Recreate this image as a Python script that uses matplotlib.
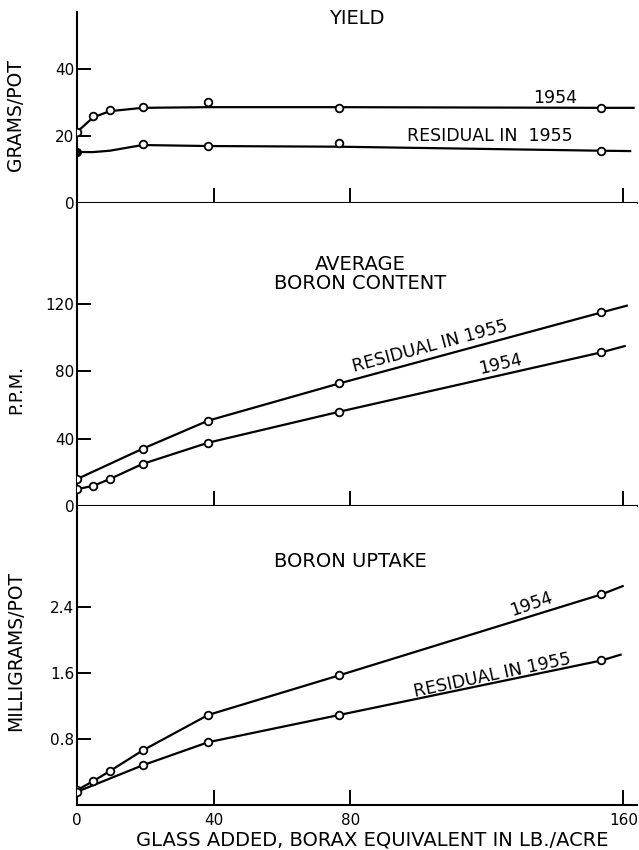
import matplotlib
matplotlib.use('Agg')
import matplotlib.pyplot as plt

# Borax equivalent added (lb/acre)
rates = [0, 4.8, 9.6, 19.2, 38.4, 76.8, 153.6]
rates_res = [0, 19.2, 38.4, 76.8, 153.6]

# Yield, grams/pot
yield_1954 = [21.2, 26.0, 27.8, 28.7, 30.1, 28.4, 28.4]
yield_res = [15.2, 17.6, 17.0, 17.9, 15.5]
# smooth curves as drawn by hand
curve_x_1954 = [0, 4.8, 9.6, 19.2, 38.4, 76.8, 153.6, 163]
curve_y_1954 = [21.2, 25.6, 27.4, 28.4, 28.6, 28.6, 28.4, 28.4]
curve_x_res = [0, 4.8, 9.6, 19.2, 38.4, 76.8, 153.6, 162]
curve_y_res = [15.2, 15.2, 15.6, 17.3, 17.0, 16.8, 15.6, 15.5]

# Average boron content, p.p.m.
ppm_1954 = [10, 12, 16, 25, 37.6, 56, 91.3]
ppm_res = [16, 34, 50.7, 72.8, 115]
ppm_1954_end = (160.4, 95)
ppm_res_end = (161, 119)

# Boron uptake, mg/pot
upt_1954 = [0.18, 0.29, 0.41, 0.66, 1.09, 1.57, 2.55]
upt_res = [0.16, 0.48, 0.76, 1.09, 1.75]
upt_1954_end = (159.8, 2.65)
upt_res_end = (159.2, 1.82)

plt.rcParams['font.family'] = ['DejaVu Sans']
fig = plt.figure(figsize=(6.39, 8.5), dpi=100)

left, width = 77 / 639, 560 / 639
ax1 = fig.add_axes([left, 1 - 203 / 850, width, 191 / 850])
ax2 = fig.add_axes([left, 1 - 506 / 850, width, 303 / 850])
ax3 = fig.add_axes([left, 1 - 805 / 850, width, 299 / 850])

line_kw = dict(color='black', lw=1.6)
mk_kw = dict(marker='o', ms=5.5, mfc='white', mec='black', mew=1.3, ls='none', zorder=3)

for ax in (ax1, ax2, ax3):
    ax.set_xlim(0, 164)
    for s in ('top', 'right'):
        ax.spines[s].set_visible(False)
    ax.spines['left'].set_linewidth(1.5)
    ax.spines['bottom'].set_linewidth(1.5)
    ax.set_xticks([0, 40, 80, 160])
    ax.tick_params(axis='x', direction='in', length=11, width=1.4, pad=6, labelsize=11)
    ax.tick_params(axis='y', direction='in', length=10, width=1.4, pad=2, labelsize=11)
ax1.tick_params(axis='x', labelbottom=False)
ax2.tick_params(axis='x', labelbottom=False)

# --- yield
ax1.set_ylim(0, 57)
ax1.set_yticks([0, 20, 40])
ax1.plot(curve_x_1954, curve_y_1954, **line_kw)
ax1.plot(curve_x_res, curve_y_res, **line_kw)
ax1.plot(rates, yield_1954, **mk_kw)
ax1.plot(rates_res[1:], yield_res[1:], **mk_kw)
ax1.plot(rates_res[:1], yield_res[:1], marker='o', ms=5.5, color='black', ls='none', zorder=4)
ax1.text(82, 55, 'YIELD', ha='center', va='center', fontsize=14)
ax1.text(140, 31.2, '1954', ha='center', va='center', fontsize=12.5)
ax1.text(121, 20, 'RESIDUAL IN  1955', ha='center', va='center', fontsize=12.5)
ax1.set_ylabel('GRAMS/POT', fontsize=13.5)
ax1.yaxis.set_label_coords(-0.093, 0.46)

# --- boron content
ax2.set_ylim(0, 180)
ax2.set_yticks([0, 40, 80, 120])
ax2.plot(rates + [ppm_1954_end[0]], ppm_1954 + [ppm_1954_end[1]], **line_kw)
ax2.plot(rates_res + [ppm_res_end[0]], ppm_res + [ppm_res_end[1]], **line_kw)
ax2.plot(rates, ppm_1954, **mk_kw)
ax2.plot(rates_res, ppm_res, **mk_kw)
ax2.text(83, 138, 'AVERAGE\nBORON CONTENT', ha='center', va='center', fontsize=14,
         linespacing=1.0)
ax2.text(103.5, 95, 'RESIDUAL IN 1955', ha='center', va='center', fontsize=12.5,
         rotation=15, rotation_mode='anchor')
ax2.text(124, 84, '1954', ha='center', va='center', fontsize=12.5,
         rotation=13, rotation_mode='anchor')
ax2.set_ylabel('P.P.M.', fontsize=13)
ax2.yaxis.set_label_coords(-0.093, 0.383)

# --- boron uptake
ax3.set_ylim(0, 3.62)
ax3.set_yticks([0.8, 1.6, 2.4])
ax3.set_yticklabels(['0.8', '1.6', '2.4'])
ax3.plot(rates + [upt_1954_end[0]], upt_1954 + [upt_1954_end[1]], **line_kw)
ax3.plot(rates_res + [upt_res_end[0]], upt_res + [upt_res_end[1]], **line_kw)
ax3.plot(rates, upt_1954, **mk_kw)
ax3.plot(rates_res, upt_res, **mk_kw)
ax3.text(80, 2.95, 'BORON UPTAKE', ha='center', va='center', fontsize=14)
ax3.text(133, 2.43, '1954', ha='center', va='center', fontsize=12.5,
         rotation=19, rotation_mode='anchor')
ax3.text(121.7, 1.57, 'RESIDUAL IN 1955', ha='center', va='center', fontsize=12.5,
         rotation=12, rotation_mode='anchor')
ax3.set_ylabel('MILLIGRAMS/POT', fontsize=13.5)
ax3.yaxis.set_label_coords(-0.093, 0.515)

fig.text(372 / 639, 1 - 840 / 850, 'GLASS ADDED, BORAX EQUIVALENT IN LB./ACRE',
         ha='center', va='center', fontsize=14)

fig.savefig('out.png', dpi=100)
